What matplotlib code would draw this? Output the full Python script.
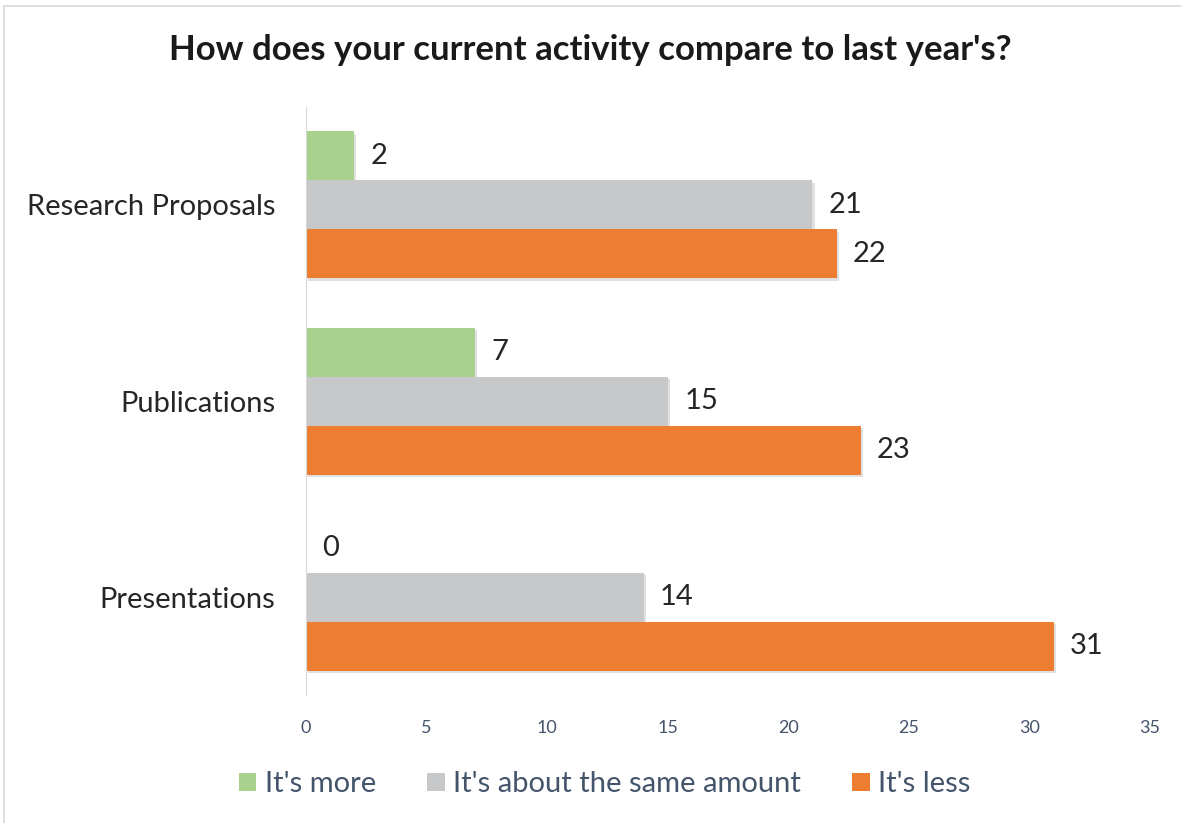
import matplotlib
matplotlib.use('Agg')
import matplotlib.pyplot as plt
import matplotlib.patheffects as pe
from matplotlib.patches import Rectangle
import numpy as np

plt.rcParams['font.family'] = ['Lato', 'DejaVu Sans']

# survey answers per activity (bottom to top on the chart)
categories = ['Presentations', 'Publications', 'Research Proposals']
more = [0, 7, 2]
same = [14, 15, 21]
less = [31, 23, 22]
series_names = ["It's more", "It's about the same amount", "It's less"]
colors = ['#A9D18E', '#C7C8CA', '#ED7D31']
ticks = [0, 5, 10, 15, 20, 25, 30, 35]

fig = plt.figure(figsize=(11.81, 8.23), dpi=100)
ax = fig.add_axes([0.2591, 0.1555, 0.7147, 0.7145])

# light frame around the whole chart area
fig.patches.append(Rectangle((4 / 1181, -0.01), 1.1, 1 - 6 / 823 + 0.01,
                             transform=fig.transFigure, fill=False,
                             edgecolor='#D9D9D9', linewidth=1.2))

y = np.arange(len(categories))
h = 0.25
shadow = [pe.SimplePatchShadow(offset=(1.5, -2), shadow_rgbFace='#999999', alpha=0.3), pe.Normal()]

for vals, off, col, name in zip([more, same, less], [h, 0, -h], colors, series_names):
    bars = ax.barh(y + off, vals, height=h, color=col, label=name)
    for b in bars:
        b.set_path_effects(shadow)
    for yi, v in zip(y + off, vals):
        ax.text(v + 0.68, yi, str(v), va='center', ha='left', fontsize=21, color='#262626')

ax.set_xlim(0, 35)
ax.set_ylim(-0.5, 2.5)
ax.set_xticks(ticks)
ax.set_yticks(y)
ax.set_yticklabels(categories, fontsize=21, color='#262626')
ax.tick_params(axis='x', labelsize=13, colors='#44546A', length=0, pad=18)
ax.tick_params(axis='y', length=0, pad=22)
for s in ['top', 'right', 'bottom']:
    ax.spines[s].set_visible(False)
ax.spines['left'].set_color('#D9D9D9')

fig.text(0.5, 0.939, "How does your current activity compare to last year's?",
         ha='center', va='center', fontsize=25, fontweight='bold', color='#1A1A1A')

leg = fig.legend(loc='center', bbox_to_anchor=(0.512, 0.047), ncol=3, frameon=False,
                 fontsize=21, labelcolor='#44546A', handlelength=0.6, handleheight=0.6,
                 handletextpad=0.3, columnspacing=1.75)
for hnd in leg.legend_handles:
    hnd.set_path_effects([])

fig.savefig('out.png', dpi=100)
